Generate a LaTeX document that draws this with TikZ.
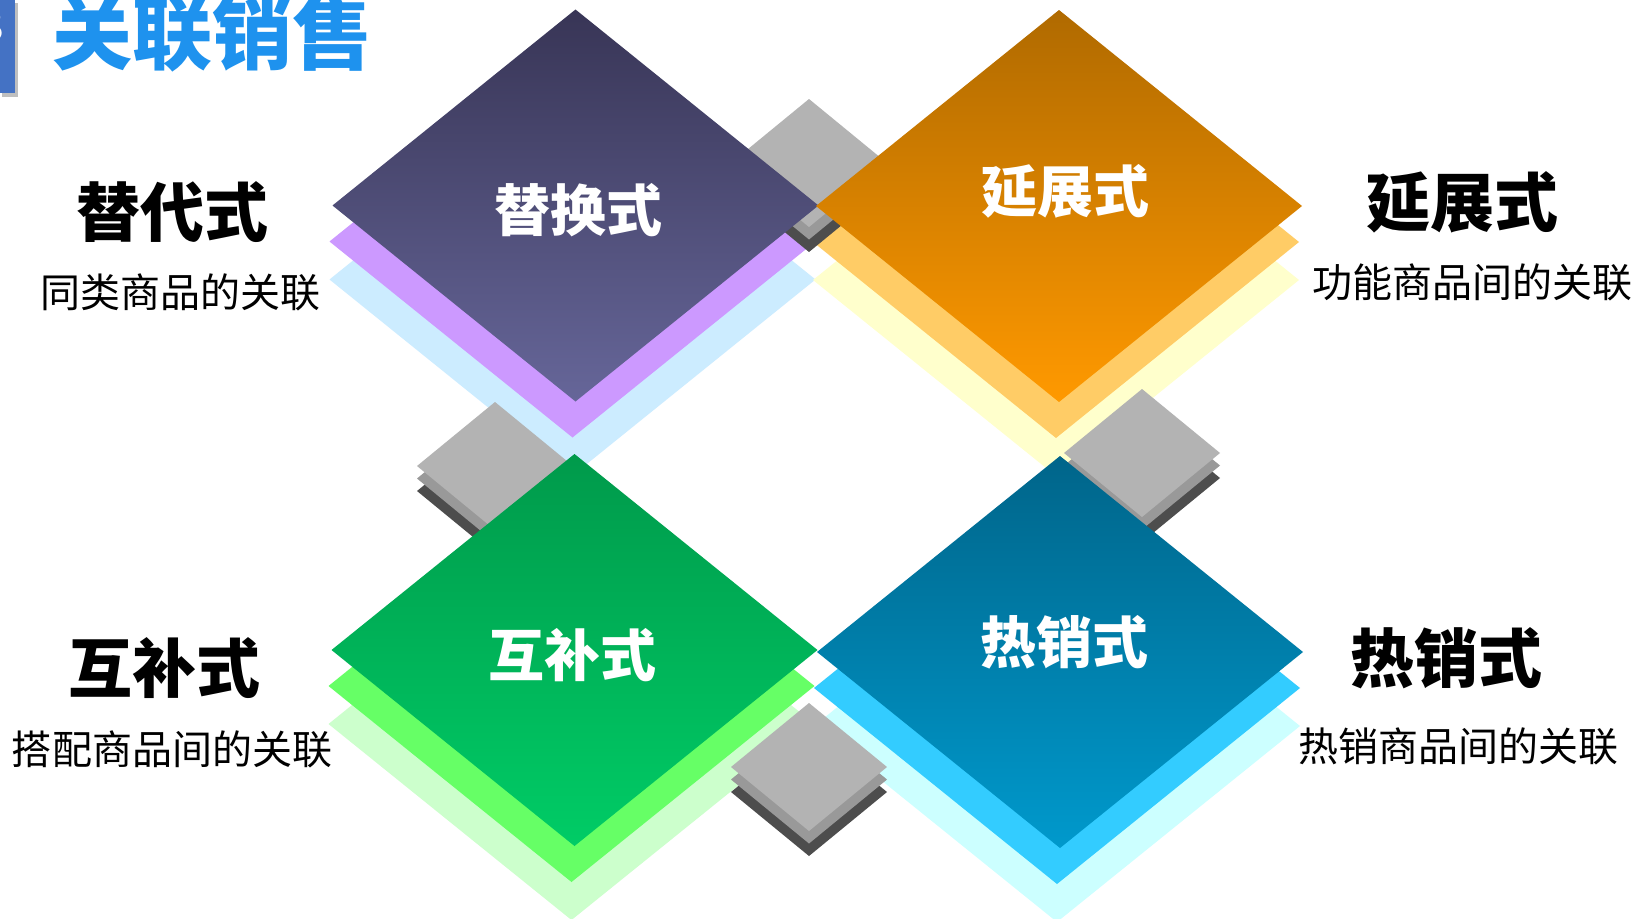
\documentclass[tikz,border=0pt]{standalone}
\usepackage{fontspec}
\newfontfamily\cjk{Noto Sans CJK SC}
\definecolor{pTop}{HTML}{383556}
\definecolor{pBot}{HTML}{666699}
\definecolor{oTop}{HTML}{B06A00}
\definecolor{oBot}{HTML}{FF9900}
\definecolor{gTop}{HTML}{009A4B}
\definecolor{gBot}{HTML}{00CC66}
\definecolor{bTop}{HTML}{00658A}
\definecolor{bBot}{HTML}{0099CC}
\definecolor{pLa}{HTML}{CC99FF}
\definecolor{pLb}{HTML}{CCECFF}
\definecolor{oLa}{HTML}{FFCC66}
\definecolor{oLb}{HTML}{FFFFCC}
\definecolor{gLa}{HTML}{66FF66}
\definecolor{gLb}{HTML}{CCFFCC}
\definecolor{bLa}{HTML}{33CCFF}
\definecolor{bLb}{HTML}{CCFFFF}
\definecolor{grA}{HTML}{B3B3B3}
\definecolor{grB}{HTML}{999999}
\definecolor{grC}{HTML}{4D4D4D}
\definecolor{titleblue}{HTML}{1E92EE}
\definecolor{barblue}{HTML}{4472C4}
% filled diamond: colour, cx, cy, half width, half height
\newcommand\mydia[5]{\fill[#1] ({#2-#4},{#3}) -- ({#2},{#3-#5}) -- ({#2+#4},{#3}) -- ({#2},{#3+#5}) -- cycle;}
% shaded diamond: top colour, bottom colour, cx, cy, half width, half height
\newcommand\myshdia[6]{\shade[top color=#1,bottom color=#2] ({#3-#5},{#4}) -- ({#3},{#4-#6}) -- ({#3+#5},{#4}) -- ({#3},{#4+#6}) -- cycle;}
% layered back plates: colour a, colour b, cx, cy
\newcommand\myplates[4]{\mydia{#2}{#3-3}{#4+74}{243}{196}\mydia{#1}{#3-3}{#4+36}{243}{196}}
% gray connector stack: cx, cy
\newcommand\mygraystack[2]{\mydia{grC}{#1}{#2+25}{78}{64}\mydia{grB}{#1}{#2+12.5}{78}{64}\mydia{grA}{#1}{#2}{78}{64}}
\begin{document}
\begin{tikzpicture}[x=1pt,y=-1pt,
  inlabel/.style={text=white, font=\cjk\bfseries\fontsize{56}{60}\selectfont, inner sep=0pt},
  outlabel/.style={text=black, font=\cjk\bfseries\fontsize{64}{68}\selectfont, inner sep=0pt},
  desc/.style={text=black, font=\cjk\fontsize{40}{44}\selectfont, inner sep=0pt},
  titlestyle/.style={text=titleblue, font=\cjk\bfseries\fontsize{80}{84}\selectfont, inner sep=0pt}]
\useasboundingbox (0,0) rectangle (1637,918);
\fill[white] (0,0) rectangle (1637,918);
% back plates
\myplates{pLa}{pLb}{575.5}{205.5}
\myplates{oLa}{oLb}{1059}{206}
\myplates{gLa}{gLb}{574.5}{650}
\myplates{bLa}{bLb}{1060}{652}
% gray connectors
\mygraystack{809}{163}
\mygraystack{495}{466}
\mygraystack{1142}{453}
\mygraystack{809}{767}
% main diamonds
\myshdia{pTop}{pBot}{575.5}{205.5}{243}{196}
\myshdia{oTop}{oBot}{1059}{206}{243}{196}
\myshdia{gTop}{gBot}{574.5}{650}{243}{196}
\myshdia{bTop}{bBot}{1060}{652}{243}{196}
% labels inside diamonds
\node[inlabel] (tihuan) at (578,210) {替换式};
\node[inlabel] (yanzhanIn) at (1065,191) {延展式};
\node[inlabel] (hubuIn) at (572,655) {互补式};
\node[inlabel] (rexiaoIn) at (1064,642) {热销式};
% outer labels
\node[outlabel] (tidai) at (172,212) {替代式};
\node[desc] (tidaiD) at (180,292) {同类商品的关联};
\node[outlabel] (yanzhan) at (1462,202) {延展式};
\node[desc] (yanzhanD) at (1472,282) {功能商品间的关联};
\node[outlabel] (hubu) at (164,668) {互补式};
\node[desc] (hubuD) at (172,749) {搭配商品间的关联};
\node[outlabel] (rexiao) at (1446,658) {热销式};
\node[desc] (rexiaoD) at (1458,746) {热销商品间的关联};
% title
\fill[black, opacity=0.25] (2,3) rectangle (18,97);
\fill[barblue] (0,0) rectangle (15,93);
\node[anchor=east, text=white, font=\bfseries\fontsize{46}{46}\selectfont, inner sep=0pt] (num) at (5,27) {3};
\node[titlestyle] (title) at (212,33) {关联销售};
\end{tikzpicture}
\end{document}
